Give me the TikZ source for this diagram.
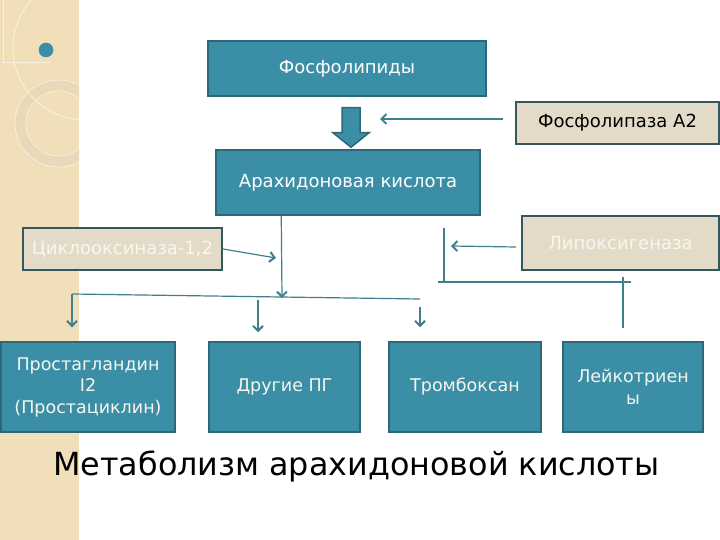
\documentclass[tikz,border=0pt]{standalone}
\usepackage{fontspec}
\setmainfont{DejaVu Sans}
\usetikzlibrary{arrows.meta,calc}
\definecolor{tealf}{RGB}{58,143,166}
\definecolor{tealb}{RGB}{44,104,120}
\definecolor{slateb}{RGB}{52,88,94}
\definecolor{linec}{RGB}{64,128,142}
\definecolor{beigef}{RGB}{227,219,199}
\definecolor{bandc}{RGB}{240,223,185}
\definecolor{ringc}{RGB}{232,217,185}
\definecolor{paletext}{RGB}{248,246,238}
\begin{document}
\begin{tikzpicture}[x=1pt,y=-1pt,
  tealbox/.style={draw=tealb,fill=tealf,line width=1.5pt,text=white,inner sep=0pt,align=center,font=\fontsize{18}{22}\selectfont},
  lowbox/.style={tealbox,font=\fontsize{17.5}{21.5}\selectfont,text=paletext},
  enzbox/.style={draw=slateb,fill=beigef,line width=2pt,inner sep=0pt,align=center,font=\fontsize{18}{22}\selectfont},
  conn/.style={draw=linec,line width=1.2pt},
  tip/.style={-{Straight Barb[length=5pt,width=10pt,line width=2pt]}}
]
\useasboundingbox (0,0) rectangle (720,540);
\fill[white] (0,0) rectangle (720,540);
% decorative band
\fill[bandc] (0,0) rectangle (79,540);
\begin{scope}
  \clip (0,0) rectangle (79,540);
  \draw[ringc, line width=11pt] (58.5,123.5) circle (38);
  \draw[white!55!bandc, line width=0.7pt] (58.5,123.5) circle (43.5);
  \draw[white!55!bandc, line width=0.7pt] (58.5,123.5) circle (32.5);
  \draw[white!55!bandc, line width=0.9pt] (85,48) circle (72);
  \draw[white!55!bandc, line width=0.9pt] (3,0) -- (3,62) -- (50,62);
\end{scope}
\fill[tealf] (46,50) circle (7.3);

% nodes
\node[tealbox,minimum width=278pt,minimum height=55pt] (fos) at (347,68.5) {Фосфолипиды};
\node[tealbox,minimum width=264pt,minimum height=65pt] (arah) at (348,182.5) {Арахидоновая кислота};
\node[enzbox,minimum width=203pt,minimum height=42pt] (fla) at (617.5,123) {Фосфолипаза А2};
\node[enzbox,text=paletext,minimum width=199pt,minimum height=42pt] (cyc) at (122.5,249) {Циклооксиназа-1,2};
\node[enzbox,text=paletext,minimum width=197pt,minimum height=54pt] (lipo) at (620.5,243) {Липоксигеназа};
\node[lowbox,minimum width=174pt,minimum height=90pt] (pg) at (88,387) {Простагландин\\I2\\(Простациклин)};
\node[lowbox,minimum width=151pt,minimum height=90pt] (oth) at (284.5,387) {Другие ПГ};
\node[lowbox,minimum width=152pt,minimum height=90pt] (trom) at (465,387) {Тромбоксан};
\node[lowbox,minimum width=140pt,minimum height=90pt] (leuk) at (633,387) {Лейкотриен\\ы};
\node[font=\fontsize{31.8}{38}\selectfont,anchor=base,inner sep=0pt] (title) at (356.5,475) {Метаболизм арахидоновой кислоты};

% block arrow
\coordinate (ba) at ($(fos.south)+(4,11)$);
\draw[fill=tealf,draw=tealb,line width=1.5pt,line join=miter]
  ($(ba)+(-9,0)$) -- ($(ba)+(9,0)$) -- ($(ba)+(9,25)$) -- ($(ba)+(18,25)$)
  -- ($(arah.north)+(3,-2)$) -- ($(ba)+(-18,25)$) -- ($(ba)+(-9,25)$) -- cycle;

% connectors
\coordinate (flaT) at (380,119);
\draw[conn,tip] ($(fla.west)+(-12,-4)$) -- (flaT);
\coordinate (cycT) at (276,258);
\draw[conn,tip] (cyc.east) -- (cycT);
\coordinate (aDown) at ($(arah.south west)+(66,0)$);
\coordinate (aTip) at (282,298);
\draw[conn,tip] (aDown) -- (aTip);
\coordinate (hL) at (72,294);
\coordinate (hR) at (420,299);
\draw[conn] (hL) -- (hR);
\coordinate (pgT) at ($(pg.north)+(-16,-14)$);
\draw[conn,tip] (hL) -- (pgT);
\coordinate (othS) at (258,300);
\coordinate (othT) at ($(oth.north)+(-26.5,-9)$);
\draw[conn,tip] (othS) -- (othT);
\coordinate (tromS) at (420,307);
\coordinate (tromT) at ($(trom.north)+(-45,-14)$);
\draw[conn,tip] (tromS) -- (tromT);
\coordinate (lipT) at (451,246);
\draw[conn,tip] ($(lipo.west)+(-5,4)$) -- (lipT);
\coordinate (lv1) at (444,228);
\coordinate (lv2) at (444,282);
\draw[conn] (lv1) -- (lv2);
\coordinate (lh1) at (438,282);
\coordinate (lh2) at (631,282);
\draw[conn] (lh1) -- (lh2);
\coordinate (ld1) at (623,277);
\coordinate (ld2) at ($(leuk.north)+(-10,-13)$);
\draw[conn] (ld1) -- (ld2);
\end{tikzpicture}
\end{document}
